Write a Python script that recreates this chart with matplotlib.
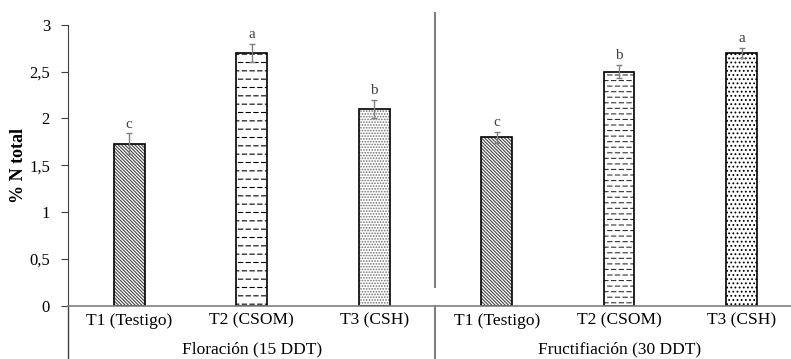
import matplotlib
matplotlib.use("Agg")
import numpy as np
import matplotlib.pyplot as plt
import matplotlib.hatch as mhatch
from matplotlib.path import Path
from matplotlib.lines import Line2D

plt.rcParams['font.family'] = ['Liberation Serif', 'DejaVu Serif']
plt.rcParams['hatch.linewidth'] = 0.8


# trama de guiones horizontales (como en Excel), en lugar de lineas continuas
class GuionesHatch(mhatch.HatchPatternBase):
    def __init__(self, hatch, density):
        self.num_lines = int(hatch.count('-') * density)
        self.num_dash = 13
        self.num_vertices = self.num_lines * self.num_dash * 2

    def set_vertices_and_codes(self, vertices, codes):
        steps, stepsize = np.linspace(0.0, 1.0, self.num_lines, False,
                                      retstep=True)
        steps += stepsize / 2.
        d = 1.0 / self.num_dash
        k = 0
        for j, yy in enumerate(steps):
            off = (d / 2) * (j % 2)
            for m in range(self.num_dash):
                x0 = (m * d + off) % 1.0
                x1 = min(x0 + d * 0.55, 1.0)
                vertices[k] = (x0, yy)
                vertices[k + 1] = (x1, yy)
                codes[k] = Path.MOVETO
                codes[k + 1] = Path.LINETO
                k += 2


mhatch._hatch_types = [GuionesHatch if h is mhatch.HorizontalHatch else h
                       for h in mhatch._hatch_types]

# datos
tratamientos = ["T1 (Testigo)", "T2 (CSOM)", "T3 (CSH)",
                "T1 (Testigo)", "T2 (CSOM)", "T3 (CSH)"]
etapas = ["Floración (15 DDT)", "Fructifiación (30 DDT)"]
n_total = [1.73, 2.70, 2.10, 1.80, 2.50, 2.70]
error = [0.11, 0.10, 0.10, 0.06, 0.07, 0.05]
letras = ["c", "a", "b", "c", "b", "a"]
tramas = ["\\" * 10, "--", "......", "\\" * 10, "---", "...."]
color_trama = ["#444444", "black", "#707070", "#444444", "#333333", "black"]

gris = "#7f7f7f"

fig = plt.figure(figsize=(7.91, 3.59), dpi=100)
ax = fig.add_axes([0.086, 0.148, 0.929, 0.783])

x = list(range(len(n_total)))
for i in x:
    ax.bar(i, n_total[i], width=0.25, color="white", edgecolor=color_trama[i],
           hatch=tramas[i], linewidth=0, zorder=2)
    ax.bar(i, n_total[i], width=0.25, fill=False, edgecolor="black",
           linewidth=1.2, zorder=2)
ax.errorbar(x, n_total, yerr=error, fmt="none", ecolor=gris, elinewidth=1,
            capsize=2.5, capthick=1, zorder=3)
for i in x:
    ax.text(i, n_total[i] + error[i] + 0.03, letras[i], ha="center",
            va="bottom", fontsize=11, color="#404040")

ax.set_xlim(-0.5, 5.5)
ax.set_ylim(0, 3)
ax.set_yticks([0, 0.5, 1, 1.5, 2, 2.5, 3])
ax.set_yticklabels(["0", "0,5", "1", "1,5", "2", "2,5", "3"], fontsize=12)
ax.set_xticks(x)
ax.set_xticklabels(tratamientos, fontsize=12.5)
ax.tick_params(axis="x", length=0, pad=5)
ax.tick_params(axis="y", length=5, color="#404040", pad=8)

for s in ["top", "right"]:
    ax.spines[s].set_visible(False)
ax.spines["left"].set_color("#404040")
ax.spines["bottom"].set_color(gris)
ax.spines["bottom"].set_linewidth(1.2)

ax.set_ylabel("% N total", fontsize=13, fontweight="bold")
ax.yaxis.set_label_coords(-0.056, 0.5)

# separador entre etapas
ax.plot([2.5, 2.5], [0.2, 3.13], color=gris, lw=1.5, clip_on=False)
trans = ax.get_xaxis_transform()
ax.add_line(Line2D([2.5, 2.5], [0, -0.19], transform=trans, color=gris,
                   lw=1.5, clip_on=False))
ax.add_line(Line2D([-0.5, -0.5], [0, -0.19], transform=trans, color="#404040",
                   lw=1, clip_on=False))

ax.text(1, -0.155, etapas[0], transform=trans, ha="center", va="center",
        fontsize=12.5)
ax.text(4, -0.155, etapas[1], transform=trans, ha="center", va="center",
        fontsize=12.5)

fig.savefig("out.png", dpi=100)
